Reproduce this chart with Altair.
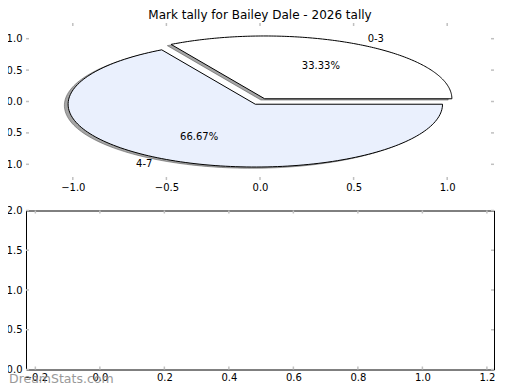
import math
import altair as alt
import pandas as pd

# ---------------- data ----------------
title_text = "Mark tally for Bailey Dale - 2026 tally"
labels = ["0-3", "4-7"]
counts = [1, 2]
explode = [0.05, 0.05]
colors = ["#ffffff", "#eaf0fd"]
pie_ticks = [-1.0, -0.5, 0.0, 0.5, 1.0]
bot_x_ticks = [-0.2, 0.0, 0.2, 0.4, 0.6, 0.8, 1.0, 1.2]
bot_y_ticks = [0.0, 0.5, 1.0, 1.5, 2.0]
watermark = "DreamStats.com"

# ---------------- pie geometry (from counts) ----------------
total = sum(counts)
rows, text_rows = [], []
theta1 = 0.0
for lab, c, ex in zip(labels, counts, explode):
    frac = c / total
    theta2 = theta1 + frac * 360.0
    mid = math.radians((theta1 + theta2) / 2.0)
    cx, cy = ex * math.cos(mid), ex * math.sin(mid)
    pts = [(cx, cy)]
    n = 150
    for j in range(n + 1):
        a = math.radians(theta1 + (theta2 - theta1) * j / n)
        pts.append((cx + math.cos(a), cy + math.sin(a)))
    pts.append((cx, cy))
    for i, (px, py) in enumerate(pts):
        rows.append(dict(slice=lab, i=i, x=px, y=py, sx=px - 0.02, sy=py - 0.02))
    lx, ly = cx + 1.1 * math.cos(mid), cy + 1.1 * math.sin(mid)
    text_rows.append(dict(t=lab, x=lx, y=ly, kind="left" if lx > 0 else "right"))
    text_rows.append(dict(t=f"{frac*100:.2f}%", x=cx + 0.6 * math.cos(mid),
                          y=cy + 0.6 * math.sin(mid), kind="center"))
    theta1 = theta2

pie_df = pd.DataFrame(rows)
txt_df = pd.DataFrame(text_rows)

W = 468
H1 = 157
H2 = 159
TICK_COLOR = "#c0c0c0"

# ---------------- top panel (pie) ----------------
xs1 = alt.Scale(domain=[-1.25, 1.25], nice=False, zero=False)
ys1 = alt.Scale(domain=[-1.25, 1.25], nice=False, zero=False)
ax1x = alt.Axis(values=pie_ticks, format=".1f", ticks=False, domain=False, grid=False,
                labelPadding=2, title=None, labelFontSize=10, labelColor="#000000")
ax1y = alt.Axis(values=pie_ticks, format=".1f", ticks=False, domain=False, grid=False,
                labelPadding=4, title=None, labelFontSize=10, labelColor="#000000")

base1 = alt.Chart(pie_df)
shadow = base1.mark_line(fill="#4c4c4c", fillOpacity=0.5, stroke="#4c4c4c",
                         strokeOpacity=0.5, strokeWidth=1).encode(
    x=alt.X("sx:Q", scale=xs1, axis=ax1x),
    y=alt.Y("sy:Q", scale=ys1, axis=ax1y),
    detail="slice:N",
    order="i:Q",
)
wedges = []
for lab, col in zip(labels, colors):
    wedges.append(
        base1.transform_filter(alt.datum.slice == lab).mark_line(
            fill=col, stroke="#000000", strokeWidth=1, strokeJoin="miter"
        ).encode(
            x=alt.X("x:Q", scale=xs1, axis=ax1x),
            y=alt.Y("y:Q", scale=ys1, axis=ax1y),
            order="i:Q",
        )
    )

texts = []
for kind in ["left", "right", "center"]:
    texts.append(
        alt.Chart(txt_df).transform_filter(alt.datum.kind == kind).mark_text(
            align=kind, baseline="middle", fontSize=10, color="#000000"
        ).encode(
            x=alt.X("x:Q", scale=xs1, axis=ax1x),
            y=alt.Y("y:Q", scale=ys1, axis=ax1y),
            text="t:N",
        )
    )

t1 = pd.DataFrame({"v": pie_ticks})
tick1 = [
    alt.Chart(t1).mark_rule(color=TICK_COLOR, strokeWidth=1.5).encode(
        x=alt.X("v:Q", scale=xs1, axis=ax1x), y=alt.value(0), y2=alt.value(3)),
    alt.Chart(t1).mark_rule(color=TICK_COLOR, strokeWidth=1.5).encode(
        x=alt.X("v:Q", scale=xs1, axis=ax1x), y=alt.value(H1 - 3), y2=alt.value(H1)),
    alt.Chart(t1).mark_rule(color=TICK_COLOR, strokeWidth=1.5).encode(
        y=alt.Y("v:Q", scale=ys1, axis=ax1y), x=alt.value(0), x2=alt.value(3)),
    alt.Chart(t1).mark_rule(color=TICK_COLOR, strokeWidth=1.5).encode(
        y=alt.Y("v:Q", scale=ys1, axis=ax1y), x=alt.value(W - 3), x2=alt.value(W)),
]

top = alt.layer(shadow, *wedges, *texts, *tick1).properties(
    width=W, height=H1,
    title=alt.TitleParams(title_text, fontSize=12, fontWeight="normal", offset=0.5,
                          anchor="middle", color="#000000"),
)

# ---------------- bottom panel (empty) ----------------
xs2 = alt.Scale(domain=[-0.229, 1.222], nice=False, zero=False)
ys2 = alt.Scale(domain=[0.0, 2.0], nice=False, zero=False)
ax2x = alt.Axis(values=bot_x_ticks, format=".1f", ticks=False, domain=False, grid=False,
                labelPadding=3, title=None, labelFontSize=10, labelColor="#000000")
ax2y = alt.Axis(values=bot_y_ticks, format=".1f", ticks=False, domain=False, grid=False,
                labelPadding=4, title=None, labelFontSize=10, labelColor="#000000")

tx2 = pd.DataFrame({"v": bot_x_ticks})
ty2 = pd.DataFrame({"v": bot_y_ticks})
tick2 = [
    alt.Chart(tx2).mark_rule(color=TICK_COLOR, strokeWidth=1.5).encode(
        x=alt.X("v:Q", scale=xs2, axis=ax2x), y=alt.value(0), y2=alt.value(3)),
    alt.Chart(tx2).mark_rule(color=TICK_COLOR, strokeWidth=1.5).encode(
        x=alt.X("v:Q", scale=xs2, axis=ax2x), y=alt.value(H2 - 3), y2=alt.value(H2)),
    alt.Chart(ty2).mark_rule(color=TICK_COLOR, strokeWidth=1.5).encode(
        y=alt.Y("v:Q", scale=ys2, axis=ax2y), x=alt.value(0), x2=alt.value(3)),
    alt.Chart(ty2).mark_rule(color=TICK_COLOR, strokeWidth=1.5).encode(
        y=alt.Y("v:Q", scale=ys2, axis=ax2y), x=alt.value(W - 3), x2=alt.value(W)),
]
wm = alt.Chart(pd.DataFrame({"t": [watermark]})).mark_text(
    align="left", baseline="middle", fontSize=12.5, color="#888888", opacity=0.85
).encode(text="t:N", x=alt.value(-17), y=alt.value(H2 + 9))

bottom = alt.layer(*tick2, wm).properties(
    width=W, height=H2,
    view=alt.ViewBackground(stroke="#000000", strokeWidth=1),
)

chart = alt.vconcat(top, bottom, spacing=30.5, bounds="flush").properties(
    padding={"left": -11, "top": 0, "right": 5, "bottom": 0}
).configure(font="DejaVu Sans").configure_view(stroke="transparent")

chart.save("out.html", embed_options={"renderer": "svg", "actions": False})
